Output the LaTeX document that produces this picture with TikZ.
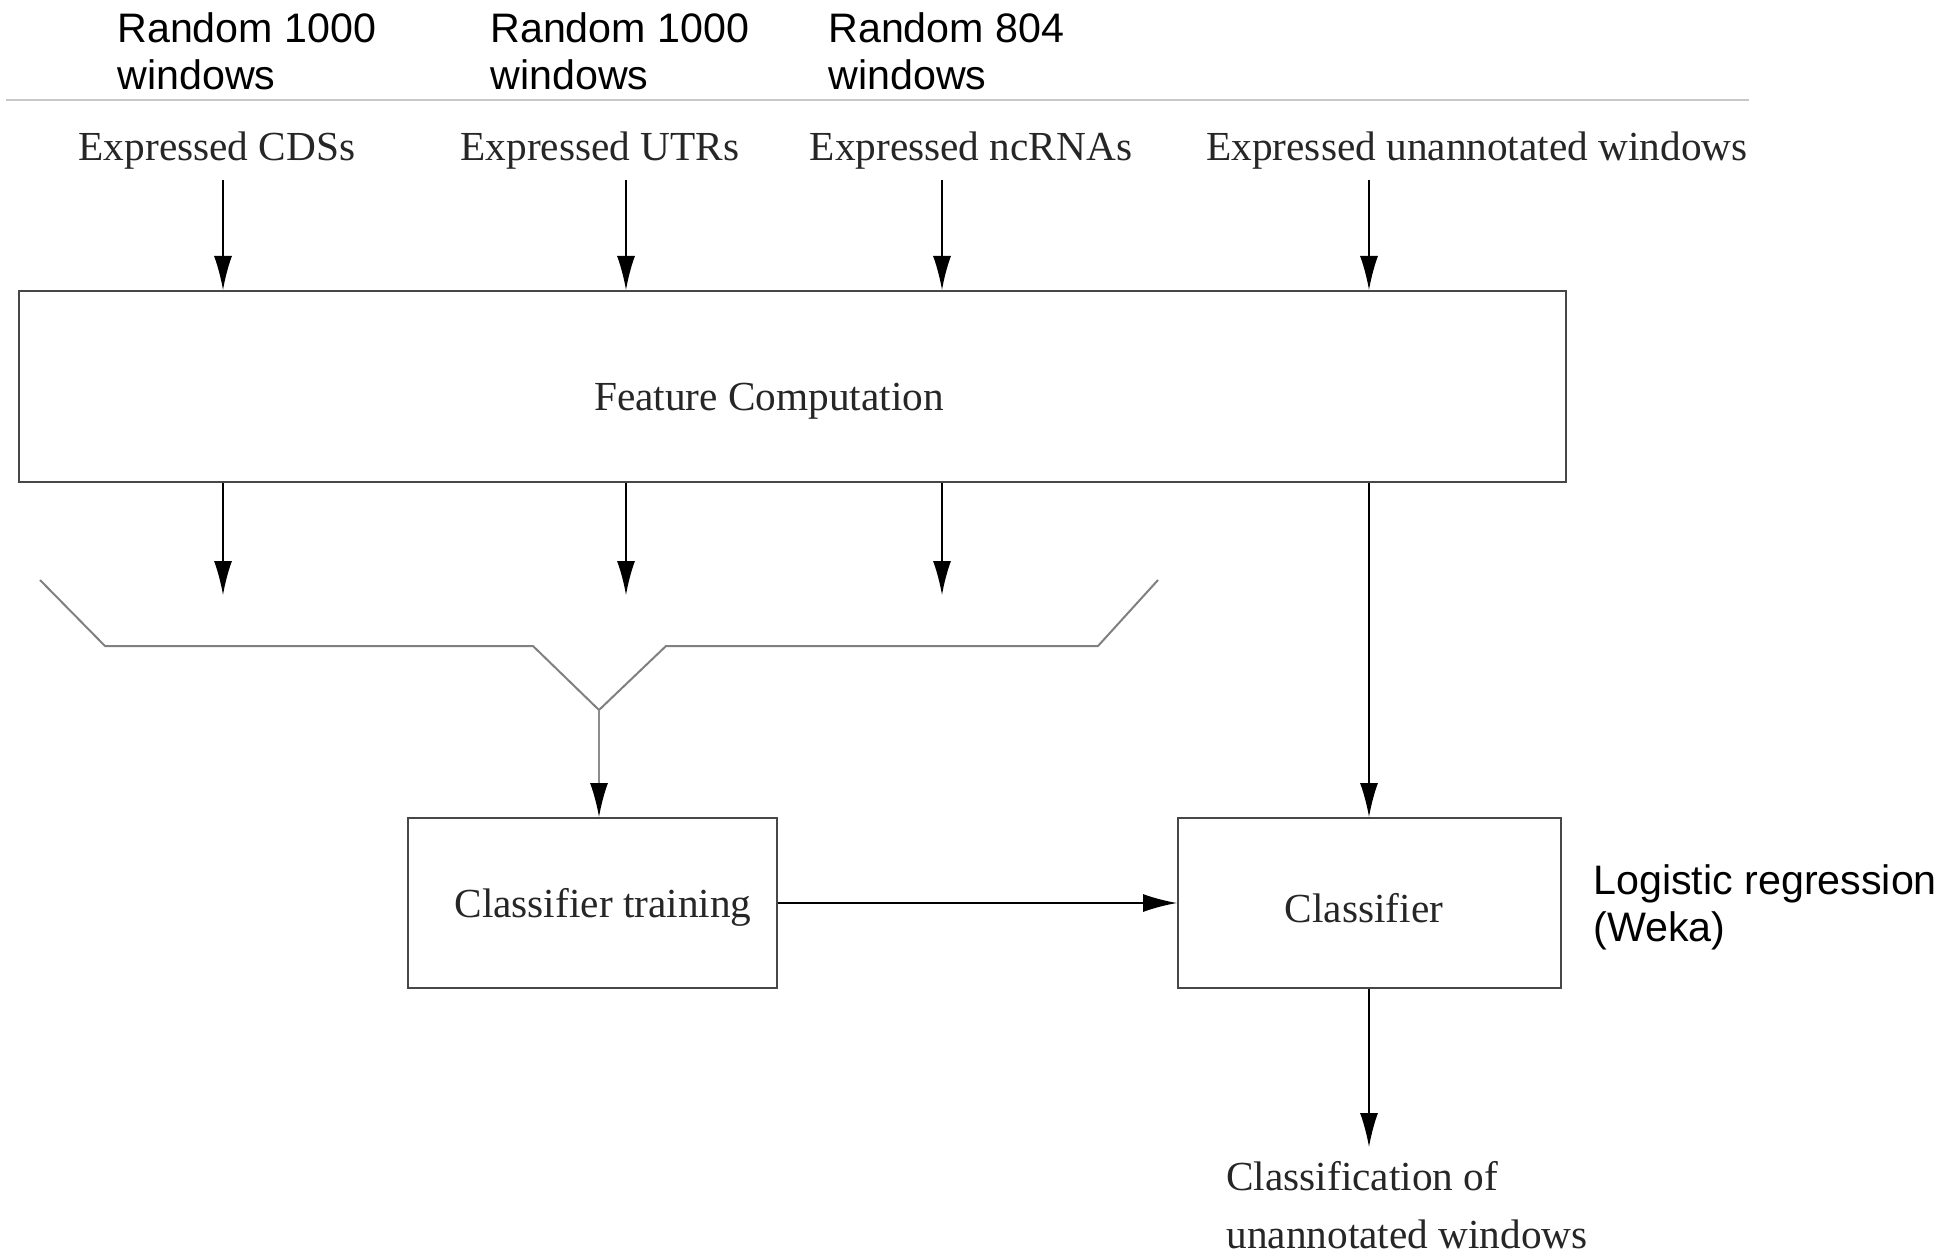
\documentclass[tikz,border=0pt]{standalone}
\usepackage{fontspec}
\setmainfont{Liberation Serif}
\newfontfamily\arialf{Liberation Sans}
\usetikzlibrary{arrows.meta}
\begin{document}
\begin{tikzpicture}[x=0.5pt,y=-0.5pt,
  serif/.style={font=\fontsize{20.65}{29}\selectfont, inner sep=0pt, text=black!85},
  sans/.style={font=\arialf\fontsize{20.6}{23.5}\selectfont, align=left, inner sep=0pt},
  box/.style={draw=black!72, line width=1pt, inner sep=0pt, rectangle},
  arr/.style={-{Latex[length=17pt,width=9pt]}, line width=0.75pt, black},
  funnel/.style={draw=black!50, line width=1pt},
]
\useasboundingbox (0,0) rectangle (1944,1257);

% top sans labels
\node[sans, anchor=north west] (r1) at (117,12) {Random 1000\\windows};
\node[sans, anchor=north west] (r2) at (490,12) {Random 1000\\windows};
\node[sans, anchor=north west] (r3) at (828,12) {Random 804\\windows};

% separator
\coordinate (sepL) at (6,100);
\coordinate (sepR) at (1749,100);
\draw[black!22, line width=1pt] (sepL) -- (sepR);

% input labels
\node[serif, anchor=base] (cds) at (217,161) {Expressed CDSs};
\node[serif, anchor=base] (utr) at (600,161) {Expressed UTRs};
\node[serif, anchor=base] (nc)  at (971,161) {Expressed ncRNAs};
\node[serif, anchor=base] (un)  at (1477,161) {Expressed unannotated windows};

% feature computation box
\node[box, minimum width=773.5pt, minimum height=95.5pt] (fc) at (792.5,386.5) {};
\node[serif, anchor=base] (fctext) at (769,410) {Feature Computation};

% arrows into feature box
\coordinate (a1) at (223,180);
\coordinate (a2) at (626,180);
\coordinate (a3) at (942,180);
\coordinate (a4) at (1369,180);
\draw[arr] (a1) -- (a1 |- fc.north);
\draw[arr] (a2) -- (a2 |- fc.north);
\draw[arr] (a3) -- (a3 |- fc.north);
\draw[arr] (a4) -- (a4 |- fc.north);

% arrows out of feature box
\coordinate (b1) at (223,595);
\coordinate (b2) at (626,595);
\coordinate (b3) at (942,595);
\draw[arr] (fc.south -| b1) -- (b1);
\draw[arr] (fc.south -| b2) -- (b2);
\draw[arr] (fc.south -| b3) -- (b3);

% funnel
\coordinate (f1) at (40,580);
\coordinate (f2) at (105,646);
\coordinate (f3) at (533,646);
\coordinate (fv) at (599,710);
\coordinate (f5) at (666,646);
\coordinate (f6) at (1098,646);
\coordinate (f7) at (1158,580);
\draw[funnel] (f1) -- (f2) -- (f3) -- (fv) -- (f5) -- (f6) -- (f7);

% classifier training
\node[box, minimum width=184.5pt, minimum height=85pt] (ct) at (592.5,903) {};
\node[serif, anchor=base] (cttext) at (603,917) {Classifier training};
\draw[black!45, line width=0.75pt, -{Latex[length=17pt,width=9pt,black]}] (fv) -- (fv |- ct.north);

% classifier
\node[box, minimum width=191.5pt, minimum height=85pt] (cl) at (1369.5,903) {};
\node[serif, anchor=base] (cltext) at (1364,922) {Classifier};

\draw[arr] (ct.east) -- (ct.east -| cl.west);
\draw[arr] (fc.south -| a4) -- (a4 |- cl.north);

\node[sans, anchor=north west] (lr) at (1593,864) {Logistic regression\\(Weka)};

% output
\coordinate (o1) at (1369,1147);
\draw[arr] (cl.south -| o1) -- (o1);
\node[serif, anchor=north west, align=left] (out) at (1226,1161) {Classification of\\unannotated windows};
\end{tikzpicture}
\end{document}
